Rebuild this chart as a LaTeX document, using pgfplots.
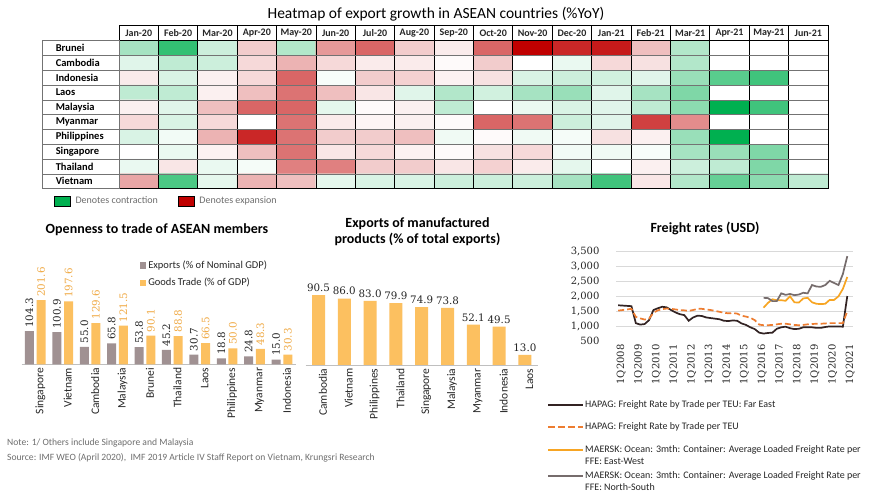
\documentclass[border=0pt]{standalone}
\usepackage{pgfplots}
\pgfplotsset{compat=1.18}
\usepackage{fontspec}
\setmainfont{Carlito}
\newfontfamily\numfont{DejaVu Serif}
\definecolor{hgreen}{RGB}{0,176,80}
\definecolor{hred}{RGB}{192,0,0}
\definecolor{expgray}{RGB}{160,145,146}
\definecolor{trorange}{RGB}{252,192,96}
\definecolor{lblorange}{RGB}{240,170,70}
\definecolor{txt}{RGB}{38,38,38}
\definecolor{notegray}{RGB}{110,110,110}
\definecolor{hapagfe}{RGB}{50,35,35}
\definecolor{hapagteu}{RGB}{237,125,49}
\definecolor{maerskew}{RGB}{247,165,35}
\definecolor{maerskns}{RGB}{118,108,108}
\definecolor{gridgray}{RGB}{217,217,217}
\definecolor{basegray}{RGB}{191,191,191}
\newcommand{\fs}[2]{\fontsize{#1}{#2}\selectfont}
\newcommand{\lgent}[2]{\parbox[t]{290pt}{\strut #1\rule[-#2]{0pt}{#2}}}
\begin{document}
\begin{tikzpicture}
\useasboundingbox (0pt,0pt) rectangle (870pt,494pt);
\fill[white] (0pt,0pt) rectangle (870pt,494pt);

% ---------------- Heatmap ----------------
\node[font=\fs{15.5}{18}, text=black] at (436pt,480pt) {Heatmap of export growth in ASEAN countries (\%YoY)};
\begin{axis}[
  at={(119pt,453.3pt)}, anchor=north west,
  scale only axis, width=709pt, height=148pt,
  xmin=-0.5, xmax=17.5, ymin=-0.5, ymax=9.5, y dir=reverse,
  enlargelimits=false,
  colormap={gw}{rgb255(0)=(0,176,80) rgb255(1)=(255,255,255) rgb255(2)=(192,0,0)},
  point meta min=-1, point meta max=1,
  xtick={0,...,17}, ytick={0,...,9},
  xticklabel pos=upper,
  xticklabels={Jan-20,Feb-20,Mar-20,Apr-20,May-20,Jun-20,Jul-20,Aug-20,Sep-20,Oct-20,Nov-20,Dec-20,Jan-21,Feb-21,Mar-21,Apr-21,May-21,Jun-21},
  yticklabels={{\hspace*{13pt}Brunei},{\hspace*{13pt}Cambodia},{\hspace*{13pt}Indonesia},{\hspace*{13pt}Laos},{\hspace*{13pt}Malaysia},{\hspace*{13pt}Myanmar},{\hspace*{13pt}Philippines},{\hspace*{13pt}Singapore},{\hspace*{13pt}Thailand},{\hspace*{13pt}Vietnam}},
  major tick length=0pt, minor tick length=0pt,
  minor xtick={0.5,1.5,...,16.5}, minor ytick={0.5,1.5,...,8.5},
  xminorgrids, yminorgrids,
  minor x grid style={black, line width=0.8pt},
  minor y grid style={black!55, line width=0.5pt},
  axis on top,
  axis line style={black, line width=0.8pt},
  xticklabel style={font=\bfseries\fs{10}{12}, text=txt, draw=black, line width=0.8pt, minimum width=39.4pt, minimum height=14.7pt, inner sep=0pt, anchor=south},
  yticklabel style={font=\bfseries\fs{10.5}{12}, text=black, draw=black!55, line width=0.5pt, text width=76pt, minimum height=14.8pt, inner sep=0pt, anchor=east, align=left},
  legend columns=2,
  legend style={draw=none, fill=none, at={(axis description cs:0,0)}, anchor=north west, xshift=-68pt, yshift=-4pt, font=\fs{10}{12}, text=notegray, /tikz/every even column/.append style={column sep=18pt}},
  legend image code/.code={\fill[#1] (0pt,-5pt) rectangle (16pt,5pt); \path (19pt,0pt);},
]
\addplot[matrix plot*, mesh/cols=18, point meta=explicit, forget plot]
  table[x expr={mod(\coordindex,18)}, y expr={floor((\coordindex+0.5)/18)}, meta index=0, header=false, row sep=\\] {
-0.35\\ -0.8\\ -0.2\\ 0.2\\ -0.3\\ 0.4\\ 0.6\\ 0.2\\ 0.08\\ 0.6\\ 1.0\\ 0.85\\ 0.9\\ 0.25\\ -0.3\\ 0\\ 0\\ 0\\
-0.12\\ -0.25\\ -0.2\\ 0.15\\ 0.3\\ 0.15\\ 0.08\\ 0.08\\ 0.02\\ 0.2\\ 0\\ -0.08\\ 0.15\\ 0.12\\ -0.3\\ 0\\ 0\\ 0\\
0.08\\ -0.15\\ 0.06\\ 0.15\\ 0.6\\ -0.03\\ 0.2\\ 0.18\\ 0.05\\ 0.12\\ -0.15\\ -0.2\\ -0.18\\ -0.12\\ -0.4\\ -0.65\\ -0.75\\ 0\\
-0.25\\ -0.25\\ 0.06\\ 0.25\\ 0.55\\ 0.25\\ 0.1\\ -0.12\\ -0.3\\ -0.18\\ -0.35\\ -0.4\\ -0.12\\ -0.35\\ -0.5\\ 0\\ 0\\ 0\\
0.06\\ -0.12\\ 0.25\\ 0.6\\ 0.6\\ -0.1\\ 0.02\\ 0.06\\ -0.25\\ 0\\ -0.08\\ -0.15\\ -0.12\\ -0.25\\ -0.45\\ -1.0\\ -0.75\\ 0\\
0.15\\ -0.15\\ 0.15\\ 0\\ 0.55\\ 0.08\\ 0.04\\ 0.06\\ 0.02\\ 0.6\\ 0.55\\ -0.2\\ -0.12\\ 0.75\\ 0.45\\ 0\\ 0\\ 0\\
-0.15\\ -0.05\\ 0.3\\ 0.85\\ 0.55\\ 0.2\\ 0.2\\ 0.25\\ -0.06\\ 0.02\\ -0.06\\ -0.04\\ 0.12\\ 0.06\\ -0.4\\ -1.0\\ 0\\ 0\\
0\\ -0.08\\ 0.05\\ 0.25\\ 0.55\\ 0.1\\ 0.15\\ 0.05\\ 0.02\\ 0.12\\ 0.15\\ -0.05\\ -0.06\\ -0.03\\ -0.35\\ -0.4\\ -0.5\\ 0\\
-0.08\\ 0.1\\ -0.08\\ -0.04\\ 0.5\\ 0.5\\ 0.2\\ 0.2\\ 0.1\\ 0.18\\ 0.08\\ -0.1\\ 0\\ 0.06\\ -0.2\\ -0.25\\ -0.5\\ 0\\
0.35\\ -0.7\\ -0.1\\ 0.3\\ 0.25\\ -0.1\\ -0.15\\ -0.15\\ -0.2\\ -0.2\\ -0.2\\ -0.35\\ -0.75\\ 0.1\\ -0.3\\ -0.6\\ -0.45\\ -0.25\\
};
\addlegendimage{fill=hgreen}
\addlegendentry{Denotes contraction}
\addlegendimage{fill=hred}
\addlegendentry{Denotes expansion}
\end{axis}

% ---------------- Openness to trade ----------------
\node[font=\bfseries\fs{14}{16}, text=black] at (157pt,264pt) {Openness to trade of ASEAN members};
\begin{axis}[
  at={(21.6pt,129.7pt)}, anchor=south west,
  scale only axis, width=274pt, height=95.4pt,
  ybar=2.7pt, bar width=9pt,
  xmin=-0.5, xmax=9.5, ymin=0, ymax=300,
  axis x line*=bottom, axis y line=none, ytick=\empty,
  x axis line style={basegray, line width=0.8pt},
  xtick={0,...,9},
  xticklabels={Singapore,Vietnam,Cambodia,Malaysia,Brunei,Thailand,Laos,Philippines,Myanmar,Indonesia},
  xticklabel style={rotate=90, anchor=east, font=\fs{11.5}{13}, text=txt, yshift=-5pt},
  major tick length=0pt,
  clip=false,
  nodes near coords,
  nodes near coords style={rotate=90, anchor=west, font=\numfont\fs{10.3}{12}},
  /pgf/number format/assume math mode=true,
  /pgf/number format/fixed, /pgf/number format/fixed zerofill, /pgf/number format/precision=1,
  legend style={draw=none, fill=none, at={(axis description cs:0,1)}, anchor=north west, xshift=118pt, yshift=10pt, font=\fs{10.5}{12}, text=txt, row sep=4pt, inner sep=0pt},
  legend cell align=left,
  legend image code/.code={\fill[#1] (0pt,-3.3pt) rectangle (6.5pt,3.3pt);},
]
\addplot[fill=expgray, draw=none, every node near coord/.append style={text=txt}] coordinates {
(0,104.3) (1,100.9) (2,55.0) (3,65.8) (4,53.8) (5,45.2) (6,30.7) (7,18.8) (8,24.8) (9,15.0)};
\addlegendentry{Exports (\% of Nominal GDP)}
\addplot[fill=trorange, draw=none, every node near coord/.append style={text=lblorange}] coordinates {
(0,201.6) (1,197.6) (2,129.6) (3,121.5) (4,90.1) (5,88.8) (6,66.5) (7,50.0) (8,48.3) (9,30.3)};
\addlegendentry{Goods Trade (\% of GDP)}
\end{axis}

% ---------------- Manufactured exports ----------------
\node[font=\bfseries\fs{14}{16}, text=black, align=center] at (417.5pt,262pt) {Exports of manufactured\\products (\% of total exports)};
\begin{axis}[
  at={(305.6pt,129pt)}, anchor=south west,
  scale only axis, width=232.2pt, height=77.3pt,
  ybar, bar width=13pt,
  xmin=-0.5, xmax=8.5, ymin=0, ymax=100,
  axis x line*=bottom, axis y line=none, ytick=\empty,
  x axis line style={basegray, line width=0.8pt},
  xtick={0,...,8},
  xticklabels={Cambodia,Vietnam,Philippines,Thailand,Singapore,Malaysia,Myanmar,Indonesia,Laos},
  xticklabel style={rotate=90, anchor=east, font=\fs{11.5}{13}, text=txt, yshift=-4.5pt},
  major tick length=0pt,
  clip=false,
  nodes near coords,
  nodes near coords style={font=\numfont\fs{10.3}{12}, text=txt},
  /pgf/number format/assume math mode=true,
  /pgf/number format/fixed, /pgf/number format/fixed zerofill, /pgf/number format/precision=1,
]
\addplot[fill=trorange, draw=none] coordinates {
(0,90.5) (1,86.0) (2,83.0) (3,79.9) (4,74.9) (5,73.8) (6,52.1) (7,49.5) (8,13.0)};
\end{axis}

% ---------------- Freight rates ----------------
\node[font=\bfseries\fs{14}{16}, text=black] at (705pt,266pt) {Freight rates (USD)};
\begin{axis}[
  at={(616pt,153pt)}, anchor=south west,
  scale only axis, width=237pt, height=89.3pt,
  xmin=-0.5, xmax=53.3, ymin=500, ymax=3500,
  ytick={1000,1500,...,3500}, extra y ticks={500}, extra y tick style={grid=none},
  ymajorgrids, grid style={gridgray, line width=0.7pt},
  axis line style={draw=none}, major tick length=0pt,
  xtick={0,4,...,52},
  xticklabels={1Q2008,1Q2009,1Q2010,1Q2011,1Q2012,1Q2013,1Q2014,1Q2015,1Q2016,1Q2017,1Q2018,1Q2019,1Q2020,1Q2021},
  xticklabel style={rotate=90, anchor=east, font=\numfont\fs{10}{12}, text=txt, yshift=-3pt},
  yticklabel style={font=\numfont\fs{10}{12}, text=txt, xshift=-13pt},
  /pgf/number format/assume math mode=true,
  /pgf/number format/1000 sep={,},
  scaled y ticks=false,
  legend style={draw=none, fill=none, at={(axis description cs:0,0)}, anchor=north west, xshift=-69pt, yshift=-57pt, font=\fs{10}{12}, text=txt, row sep=0pt, inner sep=0pt, nodes={inner sep=1pt, text depth={}}, cells={anchor=base west}},
]
\addplot[hapagfe, line width=1.7pt, legend image code/.code={\draw[hapagfe, line width=2pt] (0pt,3pt) -- (35pt,3pt);}] coordinates {
(0,1700)(1,1690)(2,1680)(3,1670)(4,1100)(5,1050)(6,1070)(7,1200)(8,1540)(9,1600)(10,1650)(11,1630)(12,1540)(13,1460)(14,1400)(15,1370)(16,1180)(17,1290)(18,1350)(19,1340)(20,1290)(21,1270)(22,1250)(23,1230)(24,1180)(25,1170)(26,1190)(27,1180)(28,1090)(29,1040)(30,960)(31,900)(32,780)(33,750)(34,770)(35,780)(36,910)(37,960)(38,980)(39,930)(40,900)(41,910)(42,960)(43,960)(44,960)(45,940)(46,940)(47,970)(48,990)(49,990)(50,990)(51,980)(52,2010)};
\addlegendentry{\lgent{HAPAG: Freight Rate by Trade per TEU: Far East}{11.6pt}}
\addplot[hapagteu, line width=1.7pt, dash pattern=on 6pt off 3pt, legend image code/.code={\draw[hapagteu, line width=2pt, dash pattern=on 7pt off 3pt] (0pt,3pt) -- (35pt,3pt);}] coordinates {
(0,1520)(1,1540)(2,1560)(3,1580)(4,1310)(5,1260)(6,1220)(7,1250)(8,1450)(9,1530)(10,1570)(11,1590)(12,1580)(13,1560)(14,1540)(15,1530)(16,1510)(17,1540)(18,1580)(19,1580)(20,1560)(21,1540)(22,1510)(23,1480)(24,1450)(25,1430)(26,1440)(27,1420)(28,1350)(29,1320)(30,1280)(31,1200)(32,1050)(33,1030)(34,1030)(35,1040)(36,1060)(37,1080)(38,1080)(39,1060)(40,1040)(41,1030)(42,1040)(43,1060)(44,1070)(45,1080)(46,1080)(47,1090)(48,1100)(49,1100)(50,1100)(51,1100)(52,1500)};
\addlegendentry{\lgent{HAPAG: Freight Rate by Trade per TEU}{12.6pt}}
\addplot[maerskew, line width=1.7pt, legend image code/.code={\draw[maerskew, line width=2pt] (0pt,3pt) -- (35pt,3pt);}] coordinates {
(33,1620)(34,1780)(35,1900)(36,1870)(37,1870)(38,1850)(39,2000)(40,1800)(41,1790)(42,1930)(43,1950)(44,1800)(45,1750)(46,1740)(47,1750)(48,1880)(49,1880)(50,2000)(51,2250)(52,2650)};
\addlegendentry{\lgent{MAERSK: Ocean: 3mth: Container: Average Loaded Freight Rate per\newline\strut FFE: East-West}{0pt}}
\addplot[maerskns, line width=1.7pt, legend image code/.code={\draw[maerskns, line width=2pt] (0pt,3pt) -- (35pt,3pt);}] coordinates {
(33,1950)(34,1940)(35,1840)(36,1840)(37,2100)(38,2050)(39,2080)(40,2040)(41,2060)(42,2120)(43,2100)(44,2380)(45,2330)(46,2320)(47,2380)(48,2520)(49,2450)(50,2380)(51,2750)(52,3350)};
\addlegendentry{\lgent{MAERSK: Ocean: 3mth: Container: Average Loaded Freight Rate per\newline\strut FFE: North-South}{0pt}}
\end{axis}

% ---------------- Notes ----------------
\node[anchor=west, font=\fs{9.6}{11}, text=notegray, inner sep=0pt] at (7pt,51pt) {Note: 1/ Others include Singapore and Malaysia};
\node[anchor=west, font=\fs{9.6}{11}, text=notegray, inner sep=0pt] at (7pt,36pt) {Source: IMF WEO (April 2020),\ \ IMF 2019 Article IV Staff Report on Vietnam, Krungsri Research};
\end{tikzpicture}
\end{document}
